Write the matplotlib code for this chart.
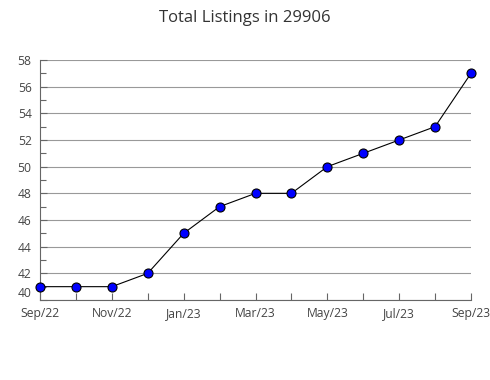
import matplotlib
matplotlib.use("Agg")
from matplotlib import pyplot as plt

# monthly values Sep/22 .. Sep/23
months = ["Sep/22", "Oct/22", "Nov/22", "Dec/22", "Jan/23", "Feb/23", "Mar/23",
          "Apr/23", "May/23", "Jun/23", "Jul/23", "Aug/23", "Sep/23"]
listings = [41, 41, 41, 42, 45, 47, 48, 48, 50, 51, 52, 53, 57]

plt.rcParams['font.family'] = ['Open Sans', 'DejaVu Sans']

fig = plt.figure(figsize=(4.9, 3.8), dpi=100)
ax = fig.add_axes([40/490, 1-300/380, 431/490, 240/380])

x = list(range(len(months)))
ax.plot(x, listings, color='black', linewidth=0.8, marker='o', markersize=6.5,
        markerfacecolor='#0000ff', markeredgecolor='black', markeredgewidth=0.8,
        clip_on=False, zorder=3)

ax.set_xlim(0, len(months) - 1)
ax.set_ylim(40, 58)
ax.set_yticks(range(40, 59, 2))
ax.set_yticks(range(41, 58, 2), minor=True)
ax.set_xticks(x)
ax.set_xticklabels([m if i % 2 == 0 else "" for i, m in enumerate(months)])
ax.yaxis.grid(True, color='#999999', linewidth=0.8)
ax.set_axisbelow(True)

for s in ['top', 'right']:
    ax.spines[s].set_visible(False)
for s in ['left', 'bottom']:
    ax.spines[s].set_color('#666666')

ax.tick_params(axis='both', which='both', direction='in', colors='#666666',
               labelcolor='#444444', labelsize=8.7, length=5, width=0.8)
ax.tick_params(axis='y', which='minor', length=4)
ax.tick_params(axis='y', pad=6)
ax.tick_params(axis='x', pad=5)
# nudge the bottom y label up a little so it does not sit on Sep/22
ax.get_yticklabels()[0].set_verticalalignment('bottom')

fig.suptitle("Total Listings in 29906", y=0.975, fontsize=12, color='#333333')

fig.savefig("out.png", dpi=100)
